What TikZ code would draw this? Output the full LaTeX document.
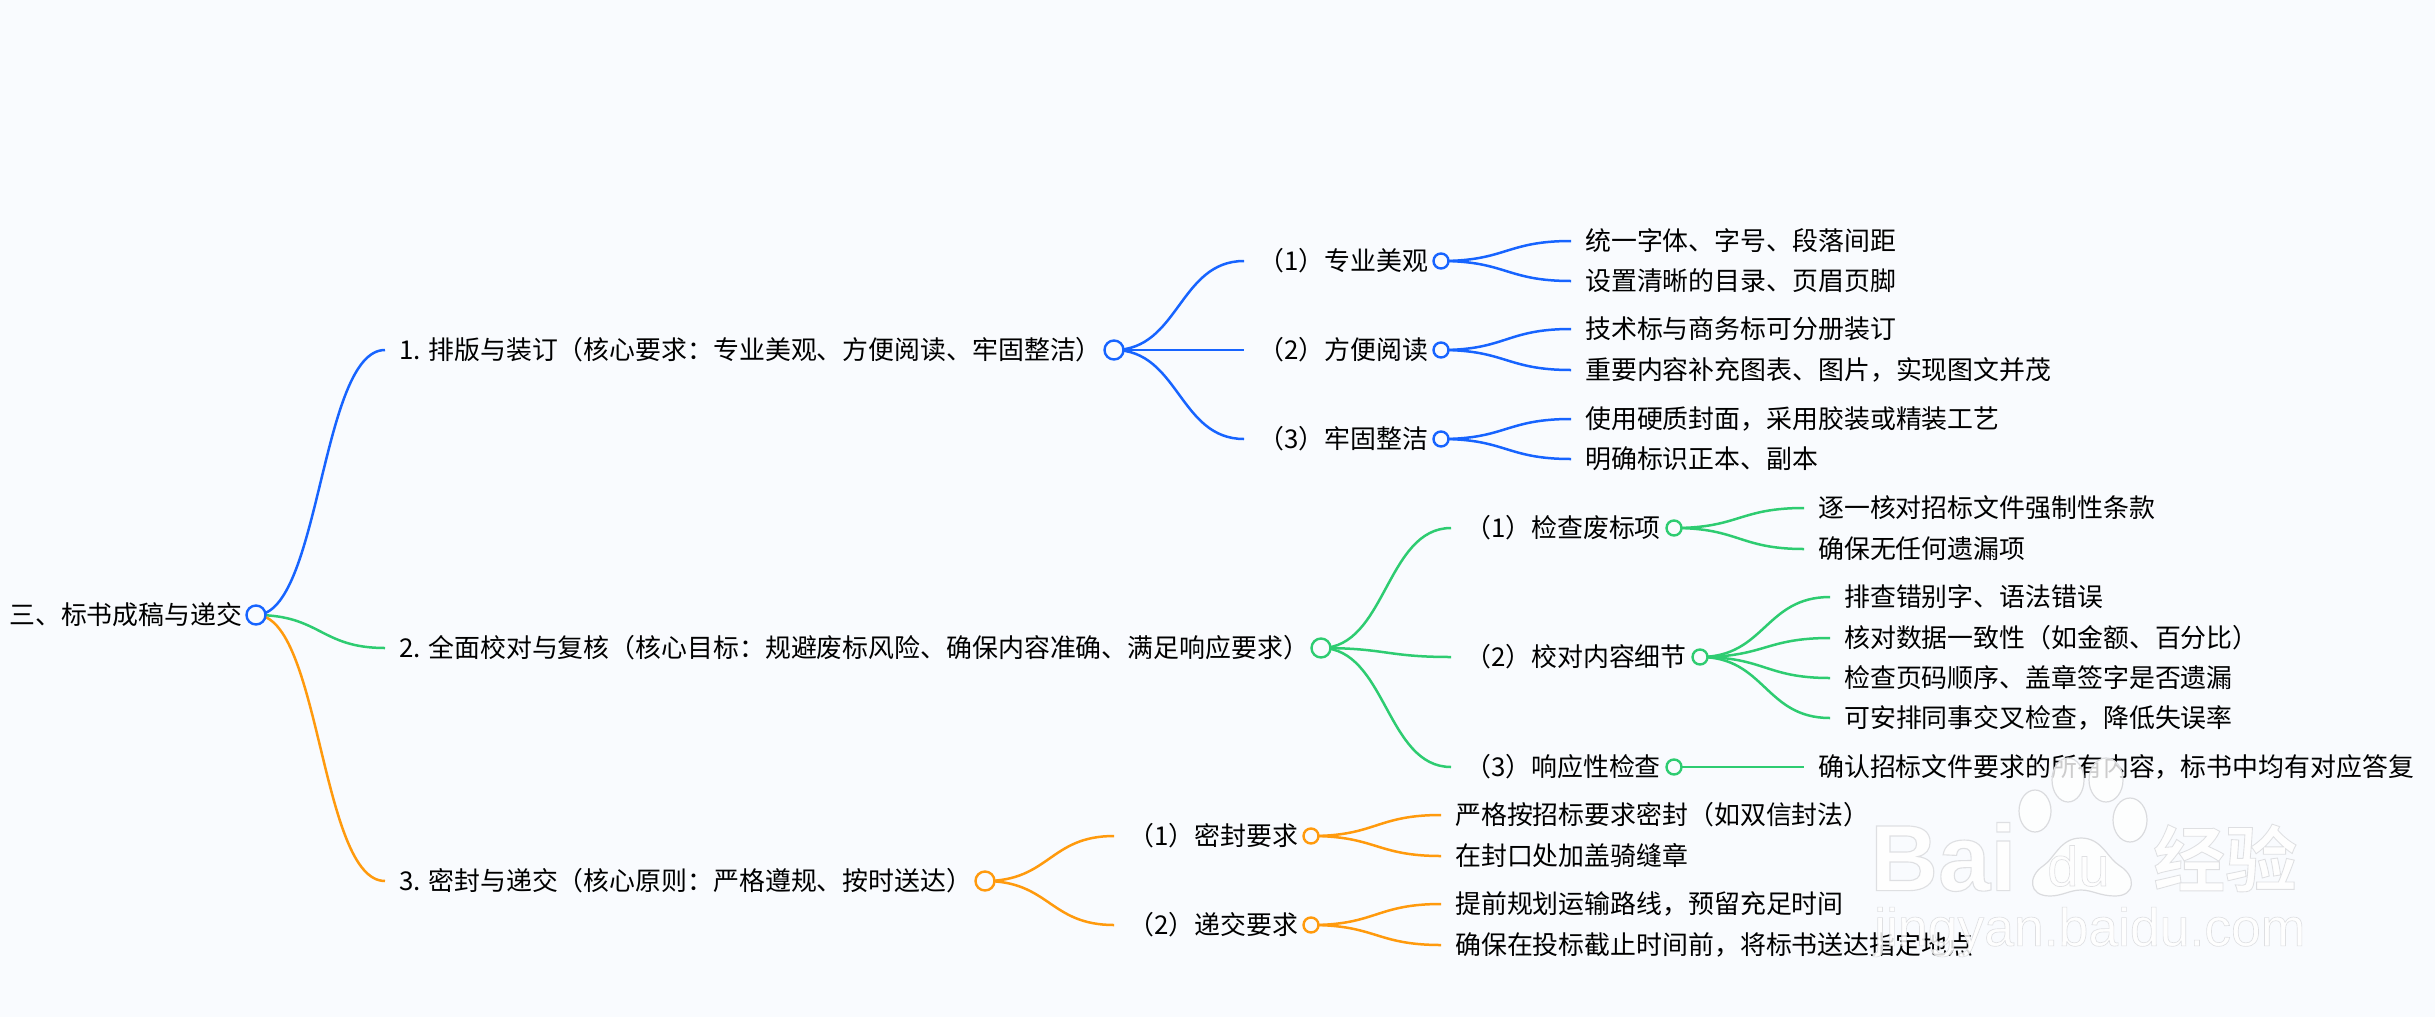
\documentclass[tikz,border=0pt]{standalone}
\usepackage{fontspec}
\setmainfont{Noto Sans CJK SC}
\newfontfamily\wmlatin[FakeBold=1.2]{Liberation Sans}
\newfontfamily\wmlatinbold[FakeBold=1.2]{Liberation Sans Bold}
\newfontfamily\wmcjk[FakeBold=1.2]{Noto Sans CJK SC Bold}
\usepackage{tikz}
\usetikzlibrary{calc}

\pgfdeclarelayer{page}
\pgfdeclarelayer{links}
\pgfsetlayers{page,links,main}

\definecolor{pagebg}{HTML}{F9FBFE}
\definecolor{mapblue}{HTML}{1764FF}
\definecolor{mapgreen}{HTML}{2ECC71}
\definecolor{maporange}{HTML}{FF9A0D}
\definecolor{wmgrey}{HTML}{DADBDE}

\tikzset{
    lab/.style={anchor=west, inner xsep=14pt, inner ysep=0pt, text height=24pt, text depth=6pt, font=\fontsize{25.9pt}{30pt}\selectfont},
    dot/.style={circle, draw=#1, fill=pagebg, line width=2.4pt, inner sep=0pt, minimum size=15pt},
    bigdot/.style={dot=#1, minimum size=19pt},
    wmshape/.style={fill=white, fill opacity=.8, draw=wmgrey, line width=1.2pt},
    wmtext/.style={text=white, text opacity=.85, inner sep=0pt, anchor=west},
}
\newcommand{\branch}[3]{\begin{pgfonlayer}{links}
    \draw[#1, line width=2.5pt] let \p1=(#2.center), \p2=(#3.west), \n1={(\x2-\x1)/2} in (\p1) .. controls +(\n1,0) and +(-\n1,0) .. (\p2);
\end{pgfonlayer}}
\newcommand{\wmstroke}{\special{pdf:code 0.855 0.86 0.87 RG}}

\begin{document}
\begin{tikzpicture}[x=1pt, y=-1pt]
    \useasboundingbox (0, 0) rectangle (2435, 1017);
    \begin{pgfonlayer}{page}
        \fill[pagebg] (0, 0) rectangle (2435, 1017);
    \end{pgfonlayer}

    \node[lab, inner xsep=0pt] (root) at (9, 615) {三、标书成稿与递交};
    \node[bigdot=mapblue] (rootdot) at (256, 615) {};

    \node[lab] (a) at (385, 350) {1. 排版与装订（核心要求：专业美观、方便阅读、牢固整洁）};
    \node[lab] (b) at (385, 648) {2. 全面校对与复核（核心目标：规避废标风险、确保内容准确、满足响应要求）};
    \node[lab] (c) at (385, 881) {3. 密封与递交（核心原则：严格遵规、按时送达）};
    \node[bigdot=mapblue] (adot) at (1114, 350) {};
    \node[bigdot=mapgreen] (bdot) at (1321, 648) {};
    \node[bigdot=maporange] (cdot) at (985, 881) {};

    \branch{mapblue}{rootdot}{a}
    \branch{mapgreen}{rootdot}{b}
    \branch{maporange}{rootdot}{c}

    \node[lab] (a1) at (1244, 261) {（1）专业美观};
    \node[lab] (a2) at (1244, 350) {（2）方便阅读};
    \node[lab] (a3) at (1244, 439) {（3）牢固整洁};
    \node[dot=mapblue] (a1dot) at (1441, 261) {};
    \node[dot=mapblue] (a2dot) at (1441, 350) {};
    \node[dot=mapblue] (a3dot) at (1441, 439) {};
    \branch{mapblue}{adot}{a1}
    \branch{mapblue}{adot}{a2}
    \branch{mapblue}{adot}{a3}

    \node[lab] (a11) at (1571, 241) {统一字体、字号、段落间距};
    \node[lab] (a12) at (1571, 281) {设置清晰的目录、页眉页脚};
    \node[lab] (a21) at (1571, 329) {技术标与商务标可分册装订};
    \node[lab] (a22) at (1571, 370) {重要内容补充图表、图片，实现图文并茂};
    \node[lab] (a31) at (1571, 419) {使用硬质封面，采用胶装或精装工艺};
    \node[lab] (a32) at (1571, 459) {明确标识正本、副本};
    \branch{mapblue}{a1dot}{a11}
    \branch{mapblue}{a1dot}{a12}
    \branch{mapblue}{a2dot}{a21}
    \branch{mapblue}{a2dot}{a22}
    \branch{mapblue}{a3dot}{a31}
    \branch{mapblue}{a3dot}{a32}

    \node[lab] (b1) at (1451, 528) {（1）检查废标项};
    \node[lab] (b2) at (1451, 657) {（2）校对内容细节};
    \node[lab] (b3) at (1451, 767) {（3）响应性检查};
    \node[dot=mapgreen] (b1dot) at (1674, 528) {};
    \node[dot=mapgreen] (b2dot) at (1700, 657) {};
    \node[dot=mapgreen] (b3dot) at (1674, 767) {};
    \branch{mapgreen}{bdot}{b1}
    \branch{mapgreen}{bdot}{b2}
    \branch{mapgreen}{bdot}{b3}

    \node[lab] (b11) at (1804, 508) {逐一核对招标文件强制性条款};
    \node[lab] (b12) at (1804, 549) {确保无任何遗漏项};
    \node[lab] (b21) at (1830, 597) {排查错别字、语法错误};
    \node[lab] (b22) at (1830, 638) {核对数据一致性（如金额、百分比）};
    \node[lab] (b23) at (1830, 678) {检查页码顺序、盖章签字是否遗漏};
    \node[lab] (b24) at (1830, 718) {可安排同事交叉检查，降低失误率};
    \node[lab] (b31) at (1804, 767) {确认招标文件要求的所有内容，标书中均有对应答复};
    \branch{mapgreen}{b1dot}{b11}
    \branch{mapgreen}{b1dot}{b12}
    \branch{mapgreen}{b2dot}{b21}
    \branch{mapgreen}{b2dot}{b22}
    \branch{mapgreen}{b2dot}{b23}
    \branch{mapgreen}{b2dot}{b24}
    \branch{mapgreen}{b3dot}{b31}

    \node[lab] (c1) at (1114, 836) {（1）密封要求};
    \node[lab] (c2) at (1114, 925) {（2）递交要求};
    \node[dot=maporange] (c1dot) at (1311, 836) {};
    \node[dot=maporange] (c2dot) at (1311, 925) {};
    \branch{maporange}{cdot}{c1}
    \branch{maporange}{cdot}{c2}

    \node[lab] (c11) at (1441, 815) {严格按招标要求密封（如双信封法）};
    \node[lab] (c12) at (1441, 856) {在封口处加盖骑缝章};
    \node[lab] (c21) at (1441, 904) {提前规划运输路线，预留充足时间};
    \node[lab] (c22) at (1441, 945) {确保在投标截止时间前，将标书送达指定地点};
    \branch{maporange}{c1dot}{c11}
    \branch{maporange}{c1dot}{c12}
    \branch{maporange}{c2dot}{c21}
    \branch{maporange}{c2dot}{c22}

    % watermark
    \draw[wmshape] (2035, 811) ellipse [x radius=16, y radius=21];
    \draw[wmshape] (2068, 780) ellipse [x radius=16, y radius=22];
    \draw[wmshape] (2106, 780) ellipse [x radius=17, y radius=22];
    \draw[wmshape] (2130, 820) ellipse [x radius=17, y radius=22];
    \draw[wmshape] (2081, 838) .. controls (2060, 838) and (2055, 858) .. (2043, 866) .. controls (2028, 876) and (2028, 896) .. (2050, 896) .. controls (2062, 896) and (2070, 890) .. (2081, 890) .. controls (2092, 890) and (2100, 896) .. (2115, 896) .. controls (2136, 896) and (2136, 876) .. (2120, 866) .. controls (2107, 858) and (2102, 838) .. (2081, 838) -- cycle;
    \node[wmtext, font=\wmlatinbold\fontsize{94pt}{100pt}\selectfont] (wmbai) at (1870, 857) {\wmstroke Bai};
    \node[wmtext, font=\wmlatin\fontsize{56pt}{60pt}\selectfont] (wmdu) at (2047, 866) {\wmstroke du};
    \node[wmtext, font=\wmcjk\fontsize{72pt}{76pt}\selectfont] (wmjy) at (2153, 858) {\wmstroke 经验};
    \node[wmtext, font=\wmlatin\fontsize{53.5pt}{58pt}\selectfont] (wmurl) at (1874, 932) {\wmstroke jingyan.baidu.com};
\end{tikzpicture}
\end{document}
